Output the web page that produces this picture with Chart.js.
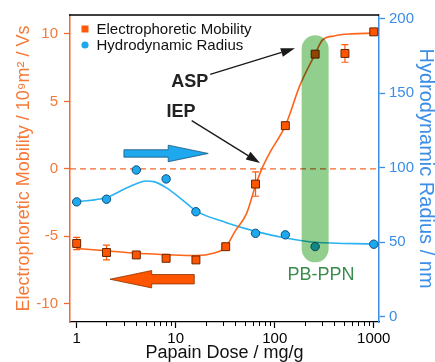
<!DOCTYPE html>
<html><head><meta charset="utf-8">
<script src="https://cdn.jsdelivr.net/npm/chart.js@4.4.1/dist/chart.umd.min.js"></script>
<style>html,body{margin:0;padding:0;background:#fff}#wrap{width:435px;height:362px;position:relative}canvas{display:block}</style>
</head><body><div id="wrap"><canvas id="c" width="435" height="362" style="width:435px;height:362px"></canvas></div>
<script>
// ---- data ----
const doses = [1, 2, 4, 8, 16, 32, 64, 128, 256, 512, 1000];
const mobility = [-5.53, -6.2, -6.38, -6.63, -6.75, -5.77, -1.13, 3.2, 8.5, 8.55, 10.15];
const mobilityErr = [0.45, 0.55, 0.2, 0.2, 0.2, 0.2, 0.9, 0.25, 0.2, 0.65, 0.2];
const radiusDoses = [1, 2, 4, 8, 16, 64, 128, 256, 1000];
const radius = [77.1, 78.9, 98.5, 92.5, 70.5, 56, 55, 47.1, 48.7];
const mobFitDose = [1, 2, 4, 8, 16, 24, 32, 40, 52, 64, 74, 90, 128, 180, 256, 300, 400, 600, 1000];
const mobFitVal = [-5.9, -6.07, -6.26, -6.36, -6.43, -6.25, -5.8, -4.6, -3.3, -1.24, 0, 1.25, 3.2, 6.2, 8.5, 9.5, 9.85, 10.0, 10.05];
const radFitDose = [1, 2, 3, 4, 5, 6, 8, 12, 16, 32, 64, 128, 256, 1000];
const radFitVal = [77.1, 80, 85.6, 89.3, 91.1, 90.7, 86.7, 77.8, 71.1, 63.3, 57.3, 52.9, 50, 48.9];
const bandDose = [256, 256];
const bandVal = [-5.93, 8.9];
const xTicks = [1, 10, 100, 1000];
const leftTicks = [-10, -5, 0, 5, 10];
const rightTicks = [0, 50, 100, 150, 200];
const xMin = 0.856, xMax = 1130;
const yMin = -11.35, yMax = 11.4;
const y2Min = -3.5, y2Max = 202.5;
const labels = { mob: 'Electrophoretic Mobility', rad: 'Hydrodynamic Radius' };
// annotation anchors in data units (dose, mobility)
const blueArrow = { tail: 3.0, base: 8.4, tip: 21.3, y: 1.14 };
const orangeArrow = { tail: 15.4, base: 5.72, tip: 2.17, y: -8.18 };
const aspText = { x: 13.9, y: 6.4, t: 'ASP' };
const iepText = { x: 11.3, y: 4.19, t: 'IEP' };
const aspArrow = { x0: 22.3, y0: 7.0, x1: 160, y1: 8.93 };
const iepArrow = { x0: 14.5, y0: 3.57, x1: 71, y1: 0.43 };
const pbText = { x: 294, y: -7.9, t: 'PB-PPN' };

const ORANGE = '#ff5a0a', ORANGE_AX = '#f26b2c', BLUE = '#1ea8ee', BLUE_AX = '#3b8de6', GREEN = '#92cf8f';
Chart.defaults.font.family = "'Liberation Sans', Arial, sans-serif";

const xy = (xs, ys) => xs.map((x, i) => ({ x: x, y: ys[i] }));

const overlay = {
  id: 'overlay',
  beforeDatasetDraw(chart, args) {
    const ds = chart.data.datasets[args.index];
    const ctx = chart.ctx;
    if (ds.kind === 'band') { ctx.save(); ctx.globalCompositeOperation = 'multiply'; }
    if (ds.kind === 'mob') {
      const xs = chart.scales.x, ys = chart.scales.y;
      ctx.save();
      ctx.strokeStyle = ORANGE; ctx.lineWidth = 1.2;
      doses.forEach((d, i) => {
        const px = xs.getPixelForValue(d);
        const t = ys.getPixelForValue(mobility[i] + mobilityErr[i]);
        const b = ys.getPixelForValue(mobility[i] - mobilityErr[i]);
        ctx.beginPath();
        ctx.moveTo(px, t); ctx.lineTo(px, b);
        ctx.moveTo(px - 3.5, t); ctx.lineTo(px + 3.5, t);
        ctx.moveTo(px - 3.5, b); ctx.lineTo(px + 3.5, b);
        ctx.stroke();
      });
      ctx.restore();
    }
  },
  afterDatasetDraw(chart, args) {
    const ds = chart.data.datasets[args.index];
    if (ds.kind === 'band') chart.ctx.restore();
  },
  afterDraw(chart) {
    const ctx = chart.ctx, a = chart.chartArea;
    const xs = chart.scales.x, ys = chart.scales.y;
    const X = v => xs.getPixelForValue(v), Y = v => ys.getPixelForValue(v);
    ctx.save();
    // top frame
    ctx.strokeStyle = '#000'; ctx.lineWidth = 1.3;
    ctx.beginPath(); ctx.moveTo(a.left - 1, a.top); ctx.lineTo(a.right, a.top); ctx.stroke();
    // minor x ticks
    ctx.lineWidth = 1;
    for (let k = 0; k < 4; k++) for (let m = 2; m <= 9; m++) {
      const v = m * Math.pow(10, k);
      if (v < xMin || v > xMax) continue;
      const px = Math.round(X(v)) + 0.5;
      ctx.beginPath(); ctx.moveTo(px, a.bottom); ctx.lineTo(px, a.bottom + 4); ctx.stroke();
    }
    // block arrows
    function block(arr, fill, stroke, h1, h2) {
      const yc = Y(arr.y), xt = X(arr.tail), xb = X(arr.base), xp = X(arr.tip);
      ctx.beginPath();
      ctx.moveTo(xt, yc - h1); ctx.lineTo(xb, yc - h1); ctx.lineTo(xb, yc - h2);
      ctx.lineTo(xp, yc); ctx.lineTo(xb, yc + h2); ctx.lineTo(xb, yc + h1);
      ctx.lineTo(xt, yc + h1); ctx.closePath();
      ctx.fillStyle = fill; ctx.fill();
      ctx.strokeStyle = stroke; ctx.lineWidth = 0.8; ctx.stroke();
    }
    block(blueArrow, BLUE, '#1b557e', 3.7, 8.3);
    block(orangeArrow, '#ff5500', '#8a3300', 4.7, 8.7);
    // thin black arrows
    function thin(ar) {
      const x0 = X(ar.x0), y0 = Y(ar.y0), x1 = X(ar.x1), y1 = Y(ar.y1);
      const ang = Math.atan2(y1 - y0, x1 - x0), L = 14, W = 4.5;
      const bx = x1 - L * Math.cos(ang), by = y1 - L * Math.sin(ang);
      ctx.strokeStyle = '#1a1a1a'; ctx.lineWidth = 1.3;
      ctx.beginPath(); ctx.moveTo(x0, y0); ctx.lineTo(bx, by); ctx.stroke();
      ctx.fillStyle = '#1a1a1a';
      ctx.beginPath(); ctx.moveTo(x1, y1);
      ctx.lineTo(bx + W * Math.sin(ang), by - W * Math.cos(ang));
      ctx.lineTo(bx - W * Math.sin(ang), by + W * Math.cos(ang));
      ctx.closePath(); ctx.fill();
    }
    thin(aspArrow); thin(iepArrow);
    // texts
    ctx.textAlign = 'center'; ctx.textBaseline = 'middle';
    ctx.fillStyle = '#222'; ctx.font = "bold 18px 'Liberation Sans', Arial, sans-serif";
    ctx.fillText(aspText.t, X(aspText.x), Y(aspText.y));
    ctx.fillText(iepText.t, X(iepText.x), Y(iepText.y));
    ctx.fillStyle = '#3a8c4a'; ctx.font = "18px 'Liberation Sans', Arial, sans-serif";
    ctx.fillText(pbText.t, X(pbText.x), Y(pbText.y));
    // legend
    ctx.textAlign = 'left';
    ctx.font = "15px 'Liberation Sans', Arial, sans-serif";
    const lx = a.left + 15, ly1 = a.top + 14, ly2 = a.top + 30;
    ctx.fillStyle = ORANGE; ctx.fillRect(lx - 3.5, ly1 - 3.5, 7, 7);
    ctx.fillStyle = BLUE; ctx.beginPath(); ctx.arc(lx, ly2, 3.6, 0, Math.PI * 2); ctx.fill();
    ctx.fillStyle = '#111';
    ctx.fillText(chart.data.datasets[0].label, lx + 11.5, ly1 + 0.5);
    ctx.fillText(chart.data.datasets[2].label, lx + 11.5, ly2 + 0.5);
    ctx.restore();
  }
};

new Chart(document.getElementById('c'), {
  type: 'line',
  data: {
    datasets: [
      { label: labels.mob, kind: 'mob', data: xy(doses, mobility), yAxisID: 'y', showLine: false,
        pointStyle: 'rect', pointRadius: 5.6, pointBackgroundColor: '#ff5500', pointBorderColor: '#6a2500', pointBorderWidth: 1, order: 6 },
      { label: 'mobFit', data: xy(mobFitDose, mobFitVal), yAxisID: 'y', borderColor: '#ff6418', borderWidth: 1.6,
        pointRadius: 0, cubicInterpolationMode: 'monotone', order: 8 },
      { label: labels.rad, data: xy(radiusDoses, radius), yAxisID: 'y2', showLine: false,
        pointStyle: 'circle', pointRadius: 4.2, pointBackgroundColor: BLUE, pointBorderColor: '#0d4f7a', pointBorderWidth: 1, order: 7 },
      { label: 'radFit', data: xy(radFitDose, radFitVal), yAxisID: 'y2', borderColor: '#2ab2f2', borderWidth: 1.6,
        pointRadius: 0, cubicInterpolationMode: 'monotone', order: 9 },
      { label: 'zero', data: xy([xMin, xMax], [0, 0]), yAxisID: 'y', borderColor: ORANGE_AX, borderWidth: 1.2,
        borderDash: [6, 4], pointRadius: 0, order: 10 },
      { label: 'band', kind: 'band', data: xy(bandDose, bandVal), yAxisID: 'y', borderColor: GREEN, borderWidth: 27,
        borderCapStyle: 'round', pointRadius: 0, order: 0 }
    ]
  },
  options: {
    responsive: false, animation: false, devicePixelRatio: 1,
    layout: { padding: { top: 13, left: 0, right: 0, bottom: 0 } },
    plugins: { legend: { display: false }, tooltip: { enabled: false } },
    scales: {
      x: {
        type: 'logarithmic', position: 'bottom', min: xMin, max: xMax,
        afterBuildTicks: s => { s.ticks = xTicks.map(v => ({ value: v, major: true })); },
        afterFit: s => { s.height = 40; },
        border: { color: '#000', width: 1.3 },
        grid: { drawOnChartArea: false, tickLength: 6, color: '#000', tickWidth: 1.2 },
        ticks: { color: '#000', font: { size: 15 }, padding: 2, maxRotation: 0, autoSkip: false, callback: v => String(v) },
        title: { display: true, text: 'Papain Dose / mg/g', color: '#111', font: { size: 18, lineHeight: 1 }, padding: { top: 0, bottom: 0 } }
      },
      y: {
        type: 'linear', position: 'left', min: yMin, max: yMax,
        afterBuildTicks: s => { s.ticks = leftTicks.map(v => ({ value: v })); },
        afterFit: s => { s.width = 70; },
        border: { color: ORANGE_AX, width: 1.5 },
        grid: { drawOnChartArea: false, tickLength: 6, color: ORANGE_AX, tickWidth: 1.3 },
        ticks: { color: '#f47a3a', font: { size: 15 }, padding: 6, callback: v => String(v) },
        title: { display: true, text: 'Electrophoretic Mobility / 10⁹m² / Vs', color: '#f47a3a', font: { size: 18, lineHeight: 1 }, padding: { top: 15, bottom: 0 } }
      },
      y2: {
        type: 'linear', position: 'right', min: y2Min, max: y2Max,
        afterBuildTicks: s => { s.ticks = rightTicks.map(v => ({ value: v })); },
        afterFit: s => { s.width = 56; },
        border: { color: BLUE_AX, width: 1.5 },
        grid: { drawOnChartArea: false, tickLength: 6, color: BLUE_AX, tickWidth: 1.3 },
        ticks: { color: BLUE_AX, font: { size: 15 }, padding: 4, callback: v => String(v) },
        title: { display: true, text: 'Hydrodynamic Radius / nm', color: BLUE_AX, font: { size: 20, lineHeight: 1 }, padding: { top: -1, bottom: 0 } }
      }
    }
  },
  plugins: [overlay]
});
</script></body></html>
